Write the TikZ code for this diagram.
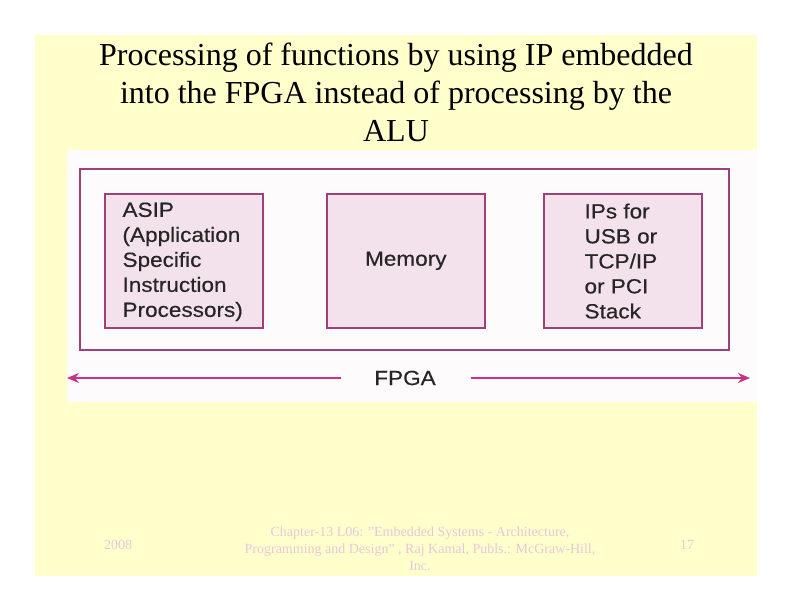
\documentclass[tikz,border=0pt]{standalone}
\usepackage{fontspec}
\setmainfont{Liberation Serif}
\newfontfamily\arialf[FakeStretch=1.1,FakeBold=0.4]{Liberation Sans}
\definecolor{slideyellow}{HTML}{FFFFCC}
\definecolor{boxborder}{HTML}{A0407A}
\definecolor{boxfill}{HTML}{F3E1EB}
\definecolor{arrowc}{HTML}{C8308A}
\definecolor{footc}{HTML}{E6C8DC}
\definecolor{imgbg}{HTML}{FDFBFB}
\usetikzlibrary{arrows.meta}
\tikzset{
  blk/.style={draw=boxborder, fill=boxfill, line width=1.6pt, minimum width=158pt, minimum height=134pt, anchor=north west},
  blktext/.style={font=\arialf\fontsize{20.5}{25}\selectfont, align=left, text=black!85},
  footer/.style={font=\fontsize{14}{17}\selectfont, text=footc, align=center},
  arr/.style={draw=arrowc, line width=1.4pt, -{Stealth[length=12pt,width=10pt]}}
}
\begin{document}
\begin{tikzpicture}[x=1pt,y=-1pt]
\useasboundingbox (0,0) rectangle (792,612);
\fill[white] (0,0) rectangle (792,612);
\fill[slideyellow] (35,35) rectangle (757,576);
\fill[imgbg] (67,150) rectangle (757,402);
\node[font=\fontsize{32}{38}\selectfont, align=center, anchor=north] (title) at (396,39)
  {Processing of functions by using IP embedded\\into the FPGA instead of processing by the\\ALU};
\node[draw=boxborder, line width=1.6pt, minimum width=649pt, minimum height=181pt, anchor=north west] (fpga) at (79,168) {};
\node[blk] (asip) at (104,193) {};
\node[blk] (mem) at (326,193) {};
\node[blk] (ips) at (543,193) {};
\node[blktext, anchor=north west] (asipt) at (119,199) {ASIP\\(Application\\Specific\\Instruction\\Processors)};
\node[blktext] (memt) at (mem.center) {Memory};
\node[blktext, anchor=north west] (ipst) at (581,200) {IPs for\\USB or\\TCP/IP\\or PCI\\Stack};
\node[blktext] (lbl) at (405,378) {FPGA};
\coordinate (leftend) at (67,378);
\coordinate (rightend) at (750,378);
\draw[arr] (lbl.west) ++(-30,0) coordinate (la) (la) -- (leftend);
\draw[arr] (lbl.east) ++(32,0) coordinate (ra) (ra) -- (rightend);
\node[footer] (year) at (118,545) {2008};
\node[footer] (cite) at (420,549) {Chapter-13 L06: "Embedded Systems - Architecture,\\Programming and Design" , Raj Kamal, Publs.: McGraw-Hill,\\Inc.};
\node[footer] (page) at (687,545) {17};
\end{tikzpicture}
\end{document}
